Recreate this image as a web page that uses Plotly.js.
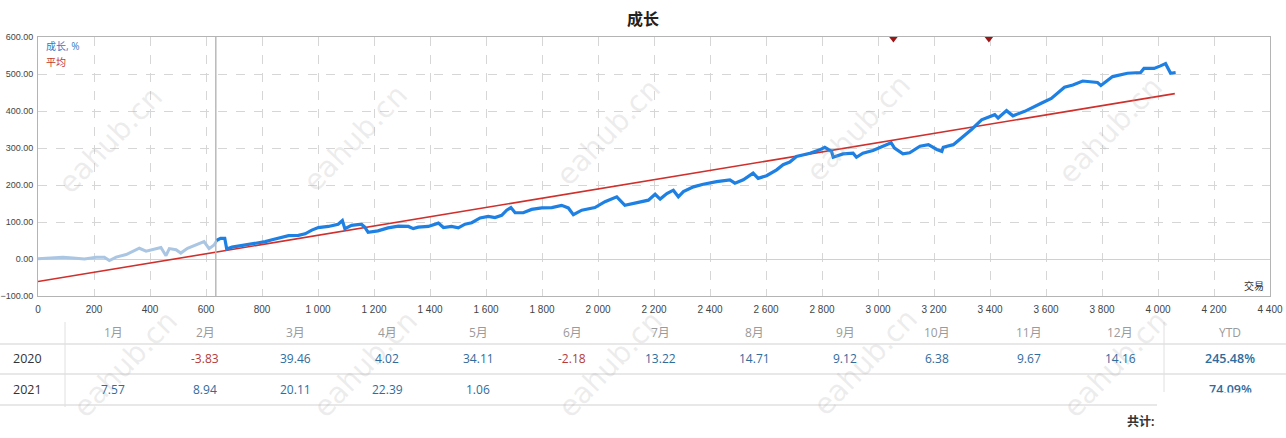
<!DOCTYPE html>
<html>
<head>
<meta charset="utf-8">
<script src="https://cdn.plot.ly/plotly-3.0.1.min.js"></script>
<style>html,body{margin:0;padding:0;background:#fff;}#chart{width:1286px;height:438px;}</style>
</head>
<body>
<div id="chart"></div>
<script>
// ---- data ----
const preX = [0,42,89,125,166,208,237,255,279,315,340,362,386,415,439,457,469,493,510,534,564,593,611,629,637];
const preY = [1,2,5,3,0,5,5,-4,5,12,20,29,21,27,31,9,28,25,16,29,38,47,28,38,48];
const growthX = [637,652,667,674,693,729,764,788,812,836,871,895,930,954,978,1001,1037,1072,1087,1096,1120,1155,1167,1179,1214,1250,1287,1323,1340,1358,1394,1430,1448,1477,1501,1525,1549,1579,1608,1632,1656,1674,1689,1704,1733,1763,1799,1835,1870,1894,1912,1942,1989,2025,2067,2096,2144,2180,2204,2222,2246,2269,2287,2305,2341,2376,2424,2471,2489,2519,2554,2572,2602,2638,2661,2685,2709,2757,2792,2810,2834,2840,2875,2911,2923,2946,2982,3018,3047,3059,3089,3113,3150,3180,3210,3228,3233,3269,3299,3334,3370,3417,3429,3459,3482,3524,3583,3619,3666,3696,3731,3784,3796,3838,3891,3938,3950,3986,4009,4027,4045,4063];
const growthY = [50,56,56,27,32,36,40,43,47,52,58,63,64,68,78,85,88,94,104,82,91,94,86,72,76,84,89,88,82,86,88,97,85,88,84,94,98,111,115,112,118,132,139,125,125,134,138,139,145,138,120,132,139,155,168,145,153,159,175,162,177,186,168,182,195,202,209,214,205,214,232,218,225,241,255,262,277,286,295,302,291,275,284,286,275,286,293,305,314,300,284,287,305,309,296,291,302,309,327,350,376,390,381,401,387,399,421,434,464,470,481,477,469,493,502,504,515,515,522,528,502,504];
const avgX = [0, 4060];
const avgY = [-61, 447];
const markerX = [3055, 3396];
const dividerX = 635;

const months = ['1月','2月','3月','4月','5月','6月','7月','8月','9月','10月','11月','12月'];
const years = ['2020','2021'];
const row2020 = [null,-3.83,39.46,4.02,34.11,-2.18,13.22,14.71,9.12,6.38,9.67,14.16];
const row2021 = [7.57,8.94,20.11,22.39,1.06,null,null,null,null,null,null,null];
const ytd = ['245.48%','74.09%'];

// ---- layout helpers (pixel -> paper) ----
const L = 38, R = 1270, T = 37, B = 296;
const px = v => (v - L) / (R - L);
const py = v => (B - v) / (B - T);
const colX = [113,205,295,387,478,572,660,755,845,937,1029,1120];
const ytdX = 1230;
const headerY = 332, rowY = [358, 389];

const traces = [
  {x: avgX, y: avgY, mode: 'lines', line: {color: '#d0302c', width: 1.6}, hoverinfo: 'skip'},
  {x: preX, y: preY, mode: 'lines', line: {color: '#aac6e3', width: 3}, hoverinfo: 'skip'},
  {x: growthX, y: growthY, mode: 'lines', line: {color: '#1e80e2', width: 3.2}, hoverinfo: 'skip'},
  {x: markerX, y: markerX.map(() => 600), mode: 'markers', cliponaxis: true,
   marker: {symbol: 'triangle-down', size: 11, color: '#9c1414'}, hoverinfo: 'skip'}
];

const ann = [];
const tableFont = 'Open Sans, Liberation Sans, Noto Sans CJK SC, sans-serif';

// watermarks (drawn first, under everything else in the annotation layer)
const wm = [[110,140],[355,138],[608,132],[858,128],[1110,130],[125,364],[365,364],[610,364],[865,362],[1115,364]];
wm.forEach(p => ann.push({xref:'paper', yref:'paper', x: px(p[0]), y: py(p[1]), xanchor:'center', yanchor:'middle',
  showarrow:false, text:'eahub.cn', textangle:-46,
  font:{size:29, color:'rgba(170,170,170,0.22)', family:'DejaVu Sans, sans-serif'}}));

ann.push({xref:'paper', yref:'paper', x: px(44), y: py(46), xanchor:'left', yanchor:'middle', showarrow:false,
  text:'成长, %', font:{size:10, color:'#2f7bc4', family:tableFont}});
ann.push({xref:'paper', yref:'paper', x: px(44), y: py(62), xanchor:'left', yanchor:'middle', showarrow:false,
  text:'平均', font:{size:10, color:'#c0392b', family:tableFont}});
ann.push({xref:'paper', yref:'paper', x: px(1266), y: py(286), xanchor:'right', yanchor:'middle', showarrow:false,
  text:'交易', font:{size:10, color:'#333', family:tableFont}});

// table header
months.forEach((m, i) => ann.push({xref:'paper', yref:'paper', x: px(colX[i]), y: py(headerY), xanchor:'center', yanchor:'middle',
  showarrow:false, text:m, font:{size:12, color:'#9a9a9a', family:tableFont}}));
ann.push({xref:'paper', yref:'paper', x: px(ytdX), y: py(headerY), xanchor:'center', yanchor:'middle',
  showarrow:false, text:'YTD', font:{size:12, color:'#9a9a9a', family:tableFont}});

[row2020, row2021].forEach((row, r) => {
  ann.push({xref:'paper', yref:'paper', x: px(27), y: py(rowY[r]), xanchor:'center', yanchor:'middle',
    showarrow:false, text: years[r], font:{size:12.5, color:'#333', family:tableFont}});
  row.forEach((v, i) => {
    if (v === null) return;
    ann.push({xref:'paper', yref:'paper', x: px(colX[i]), y: py(rowY[r]), xanchor:'center', yanchor:'middle',
      showarrow:false, text: v.toFixed(2), font:{size:12, color: v < 0 ? '#b53a3a' : '#2f6c9c', family:tableFont}});
  });
  ann.push({xref:'paper', yref:'paper', x: px(ytdX), y: py(rowY[r]), xanchor:'center', yanchor:'middle',
    showarrow:false, text: ytd[r], font:{size:12.5, color:'#2f6c9c', family:tableFont, weight:600}});
});
// white box that hides the lower part of the second YTD value
ann.push({xref:'paper', yref:'paper', x: px(1157), y: py(392), xanchor:'left', yanchor:'top', showarrow:false,
  text:' ', width:130, height:46, bgcolor:'#ffffff', borderpad:0, font:{size:10}});
ann.push({xref:'paper', yref:'paper', x: px(1140), y: py(421), xanchor:'center', yanchor:'middle', showarrow:false,
  text:'共计:', font:{size:12, color:'#333', family:tableFont, weight:700}});

const lineC = '#e0e0e0';
const shapes = [
  {type:'line', xref:'x', yref:'paper', x0: dividerX, x1: dividerX, y0:0, y1:1, line:{color:'#b9b9b9', width:1.5}},
  {type:'line', xref:'paper', yref:'paper', x0: px(0), x1: px(1286), y0: py(344), y1: py(344), line:{color:lineC, width:1.5}},
  {type:'line', xref:'paper', yref:'paper', x0: px(0), x1: px(1286), y0: py(374), y1: py(374), line:{color:lineC, width:1.5}},
  {type:'line', xref:'paper', yref:'paper', x0: px(0), x1: px(1157), y0: py(405), y1: py(405), line:{color:lineC, width:1.5}},
  {type:'line', xref:'paper', yref:'paper', x0: px(65), x1: px(65), y0: py(322), y1: py(407), line:{color:lineC, width:1}},
  {type:'line', xref:'paper', yref:'paper', x0: px(1164), x1: px(1164), y0: py(322), y1: py(392), line:{color:lineC, width:1}}
];

const layout = {
  width: 1286, height: 438,
  margin: {l: L, r: 1286 - R, t: T, b: 438 - B},
  paper_bgcolor: '#fff', plot_bgcolor: '#fff',
  showlegend: false,
  separators: '. ',
  title: {text: '成长', x: 0.5, xref: 'container', xanchor: 'center', y: 1 - 19/438, yref: 'container', yanchor: 'middle',
          font: {size: 16, color: '#222', family: 'Noto Sans CJK SC, sans-serif', weight: 700}},
  font: {family: 'Liberation Sans, Arial, sans-serif', size: 10, color: '#333'},
  xaxis: {range: [0, 4400], tick0: 0, dtick: 200, tickformat: ',d', showgrid: true, gridcolor: '#d6d6d6', griddash: 'dash',
          zeroline: false, showline: true, linecolor: '#b4b4b4', linewidth: 1, mirror: true, ticks: '',
          tickfont: {size: 10, color: '#444'}, ticklabelstandoff: 4, fixedrange: true},
  yaxis: {range: [-100, 600], tick0: 0, dtick: 100, tickformat: '.2f', showgrid: true, gridcolor: '#d6d6d6', griddash: 'dash',
          zeroline: true, zerolinecolor: '#d0d0d0', zerolinewidth: 1, showline: true, linecolor: '#b4b4b4', linewidth: 1,
          mirror: true, ticks: '', tickfont: {size: 9, color: '#444'}, ticklabelstandoff: 2, fixedrange: true},
  annotations: ann,
  shapes: shapes
};

Plotly.newPlot('chart', traces, layout, {staticPlot: true, displayModeBar: false});
</script>
</body>
</html>
